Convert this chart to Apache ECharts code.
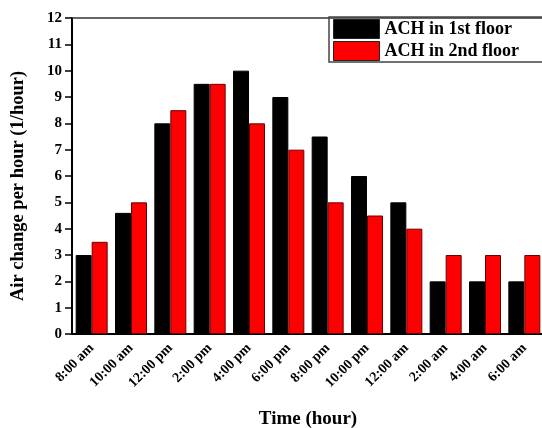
<!DOCTYPE html>
<html>
<head>
<meta charset="utf-8">
<script src="https://cdn.jsdelivr.net/npm/echarts@6/dist/echarts.min.js"></script>
<style>
  html, body { margin: 0; padding: 0; background: #fff; }
  #chart { width: 542px; height: 428px; }
</style>
</head>
<body>
<div id="chart"></div>
<script>
// time of day
const categories = ['8:00 am', '10:00 am', '12:00 pm', '2:00 pm', '4:00 pm', '6:00 pm',
  '8:00 pm', '10:00 pm', '12:00 am', '2:00 am', '4:00 am', '6:00 am']
// air changes per hour
const firstFloor = [3, 4.6, 8, 9.5, 10, 9, 7.5, 6, 5, 2, 2, 2]
const secondFloor = [3.5, 5, 8.5, 9.5, 8, 7, 5, 4.5, 4, 3, 3, 3]
const seriesNames = ['ACH in 1st floor', 'ACH in 2nd floor']

const font = 'Liberation Serif'
const chart = echarts.init(document.getElementById('chart'))

chart.setOption({
  animation: false,
  textStyle: { fontFamily: font },
  grid: { left: 72, right: -2, top: 18, bottom: 94, outerBoundsMode: 'none' },
  legend: {
    orient: 'vertical',
    left: 329,
    top: 17,
    icon: 'rect',
    itemWidth: 46,
    itemHeight: 19,
    itemGap: 2,
    padding: [2, 40, 1, 4],
    borderColor: '#444',
    borderWidth: 1.5,
    data: seriesNames,
    itemStyle: { borderColor: '#222', borderWidth: 1 },
    textStyle: { fontFamily: font, fontWeight: 'bold', fontSize: 18, color: '#000' }
  },
  xAxis: [{
    type: 'category',
    data: categories,
    name: 'Time (hour)',
    nameLocation: 'middle',
    nameGap: 76,
    nameTextStyle: { fontFamily: font, fontWeight: 'bold', fontSize: 19, color: '#000' },
    axisLine: { lineStyle: { color: '#000', width: 2 } },
    axisTick: { alignWithLabel: true, length: 7, lineStyle: { color: '#000', width: 1.5 } },
    axisLabel: { rotate: 45, margin: 12, interval: 0, fontFamily: font, fontWeight: 'bold', fontSize: 14, color: '#000' }
  }, {
    type: 'category',
    data: categories,
    position: 'top',
    axisLine: { lineStyle: { color: '#333', width: 1.5 } },
    axisTick: { alignWithLabel: true, length: 2, lineStyle: { color: '#555' } },
    axisLabel: { show: false }
  }],
  yAxis: {
    type: 'value',
    min: 0,
    max: 12,
    interval: 1,
    name: 'Air change per hour (1/hour)',
    nameLocation: 'middle',
    nameGap: 44,
    nameTextStyle: { fontFamily: font, fontWeight: 'bold', fontSize: 18.5, color: '#000', padding: [0, 20, 0, 0] },
    axisLine: { show: true, lineStyle: { color: '#000', width: 2 } },
    axisTick: { show: true, length: 7, lineStyle: { color: '#000', width: 1.5 } },
    axisLabel: { margin: 10, fontFamily: font, fontWeight: 'bold', fontSize: 15, color: '#000' },
    splitLine: { show: false }
  },
  series: [{
    name: seriesNames[0],
    type: 'bar',
    data: firstFloor,
    barWidth: 16,
    barGap: '0%',
    itemStyle: { color: '#000', borderColor: '#000', borderWidth: 1 }
  }, {
    name: seriesNames[1],
    type: 'bar',
    data: secondFloor,
    barWidth: 16,
    itemStyle: { color: '#ff0000', borderColor: '#6b0000', borderWidth: 1 }
  }]
})
</script>
</body>
</html>
